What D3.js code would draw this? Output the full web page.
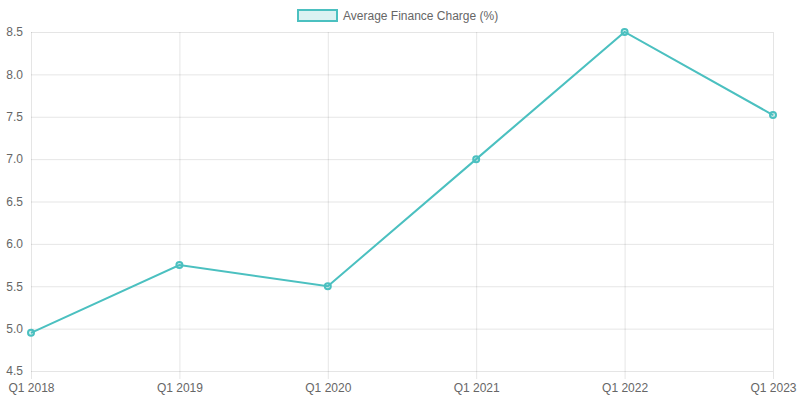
<!DOCTYPE html>
<html>
<head>
<meta charset="utf-8">
<script src="https://cdn.jsdelivr.net/npm/d3@7"></script>
<style>
  body { margin: 0; background: #fff; }
  svg { display: block; font-family: "Liberation Sans", Arial, sans-serif; }
</style>
</head>
<body>
<script>
// data
const quarters = ['Q1 2018', 'Q1 2019', 'Q1 2020', 'Q1 2021', 'Q1 2022', 'Q1 2023'];
const financeCharge = [4.95, 5.75, 5.5, 7.0, 8.5, 7.52];
const yTicks = [4.5, 5.0, 5.5, 6.0, 6.5, 7.0, 7.5, 8.0, 8.5];
const seriesName = 'Average Finance Charge (%)';

const width = 800, height = 400;
const margin = { top: 32, right: 27, bottom: 29, left: 31 };

const lineColor = 'rgb(75,192,192)';
const fillColor = 'rgba(75,192,192,0.2)';
const gridColor = 'rgba(0,0,0,0.1)';

const svg = d3.select('body').append('svg')
  .attr('width', width)
  .attr('height', height);

const x = d3.scalePoint()
  .domain(quarters)
  .range([margin.left, width - margin.right]);

const y = d3.scaleLinear()
  .domain([4.5, 8.5])
  .range([height - margin.bottom, margin.top]);

// horizontal grid + y labels
const yAxis = svg.append('g')
  .attr('transform', `translate(${margin.left},0)`)
  .call(d3.axisLeft(y)
    .tickValues(yTicks)
    .tickFormat(d3.format('.1f'))
    .tickSize(-(width - margin.left - margin.right))
    .tickPadding(8));
yAxis.select('.domain').remove();
yAxis.selectAll('line').attr('stroke', gridColor);
yAxis.selectAll('text').attr('fill', '#666').style('font-size', '12px');

// vertical grid + x labels
const xAxis = svg.append('g')
  .attr('transform', `translate(0,${height - margin.bottom})`)
  .call(d3.axisBottom(x)
    .tickSize(-(height - margin.top - margin.bottom))
    .tickPadding(12));
xAxis.select('.domain').remove();
xAxis.selectAll('line')
  .attr('stroke', gridColor)
  .attr('y2', -(height - margin.top - margin.bottom))
  .attr('y1', 8);
xAxis.selectAll('text').attr('fill', '#666').style('font-size', '12px');

// line
const line = d3.line()
  .x((d, i) => x(quarters[i]))
  .y(d => y(d));

svg.append('path')
  .datum(financeCharge)
  .attr('fill', 'none')
  .attr('stroke', lineColor)
  .attr('stroke-width', 2)
  .attr('d', line);

svg.append('g')
  .selectAll('circle')
  .data(financeCharge)
  .enter().append('circle')
    .attr('cx', (d, i) => x(quarters[i]))
    .attr('cy', d => y(d))
    .attr('r', 3)
    .attr('fill', fillColor)
    .attr('stroke', lineColor)
    .attr('stroke-width', 2);

// legend
const legend = svg.append('g').attr('transform', 'translate(297,9)');
legend.append('rect')
  .attr('x', 1).attr('y', 1)
  .attr('width', 39).attr('height', 11)
  .attr('fill', fillColor)
  .attr('stroke', lineColor)
  .attr('stroke-width', 2);
legend.append('text')
  .attr('x', 46).attr('y', 11)
  .attr('fill', '#666')
  .style('font-size', '12px')
  .text(seriesName);
</script>
</body>
</html>
